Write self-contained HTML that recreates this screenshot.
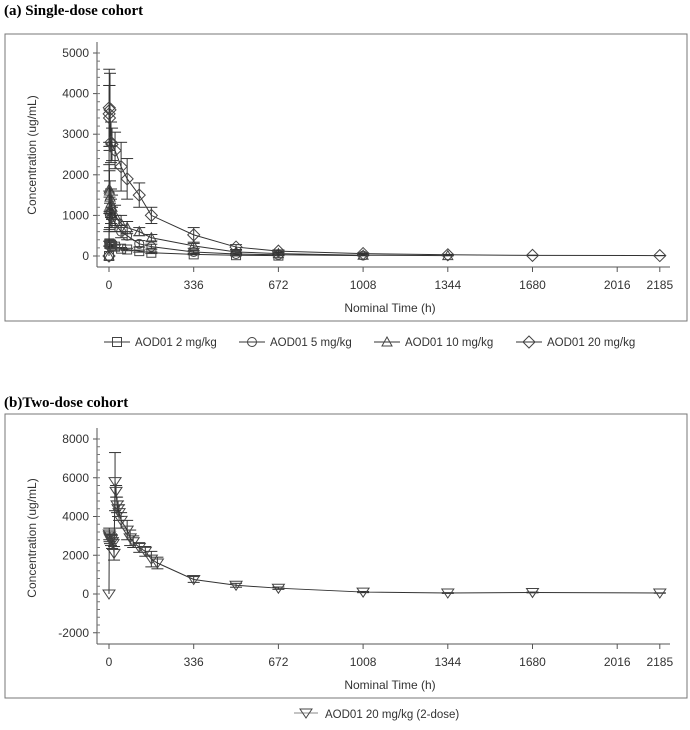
<!DOCTYPE html>
<html><head><meta charset="utf-8"><style>
body{margin:0;background:#fff;width:690px;height:725px;overflow:hidden;font-family:"Liberation Sans",Arial,sans-serif}
svg text{font-family:"Liberation Sans",Arial,sans-serif}
</style></head><body>
<svg id="svg" width="690" height="725" xmlns="http://www.w3.org/2000/svg">
<text x="4" y="15" font-weight="bold" font-size="15" fill="#000" style="font-family:'Liberation Serif',serif">(a) Single-dose cohort</text>
<text x="4" y="407" font-weight="bold" font-size="15" fill="#000" style="font-family:'Liberation Serif',serif">(b)Two-dose cohort</text>
<rect x="5" y="34" width="682" height="287" fill="none" stroke="#777"/>
<rect x="5" y="414" width="682" height="284" fill="none" stroke="#777"/>
<g id="ga"></g><g id="gb"></g>
</svg>
<script>
const xTicks=[0,336,672,1008,1344,1680,2016,2185];
const yTicksA=[0,1000,2000,3000,4000,5000];
const yTicksB=[-2000,0,2000,4000,6000,8000];
const seriesNames=["AOD01 2 mg/kg","AOD01 5 mg/kg","AOD01 10 mg/kg","AOD01 20 mg/kg"];
const t2=[0,1,2,4,8,12,24,48,72,120,168,336,504,672];
const c2=[0,300,310,290,280,250,230,180,160,120,80,40,20,10];
const e2=[0,60,60,50,50,40,40,30,30,25,20,10,5,3];
const t5=[0,1,2,4,8,12,24,48,72,120,168,336,504,672,1008];
const c5=[0,1100,1050,1000,1100,950,800,600,500,300,230,100,50,30,10];
const e5=[0,500,400,300,300,250,200,150,100,80,60,30,20,10,5];
const t10=[0,1,2,4,8,12,24,48,72,120,168,336,504,672,1008,1344];
const c10=[0,1650,1600,1450,1300,1200,1000,800,700,600,450,250,100,60,20,10];
const e10=[0,600,500,400,350,300,250,200,150,100,80,60,30,20,10,5];
const t20=[0,0.5,1,2,4,8,12,24,48,72,120,168,336,504,672,1008,1344,1680,2185];
const c20=[0,3500,3650,3400,3600,2800,2750,2600,2200,1900,1500,1000,520,220,120,60,30,15,10];
const e20=[0,700,950,800,900,500,400,450,600,500,300,200,180,60,30,15,10,5,3];
const tB=[0,1,2,4,8,12,16,20,24,28,32,36,40,48,72,84,96,120,144,168,192,336,504,672,1008,1344,1680,2185];
const cB=[0,3100,3000,2900,2800,2700,2600,2100,5800,5300,4600,4400,4200,3800,3300,2900,2700,2400,2200,1800,1600,750,450,300,100,50,80,50];
const eB=[0,300,300,300,300,350,300,350,1500,300,400,400,400,400,500,400,300,250,250,400,300,150,100,60,30,20,20,10];
const NS="http://www.w3.org/2000/svg";
function mk(p,tag,at){const e=document.createElementNS(NS,tag);for(const k in at)e.setAttribute(k,at[k]);p.appendChild(e);return e;}
const X=t=>109+t*(84.7/336);
function marker(g,type,x,y){
  const a={fill:"none",stroke:"#444","stroke-width":1};let m;
  if(type==="sq")m=mk(g,"rect",Object.assign({x:x-4.5,y:y-4.5,width:9,height:9},a));
  else if(type==="ci")m=mk(g,"circle",Object.assign({cx:x,cy:y,r:4.5},a));
  else if(type==="tr")m=mk(g,"polygon",Object.assign({points:`${x},${y-5} ${x-5},${y+4} ${x+5},${y+4}`},a));
  else if(type==="di")m=mk(g,"polygon",Object.assign({points:`${x},${y-6} ${x+6},${y} ${x},${y+6} ${x-6},${y}`},a));
  else m=mk(g,"polygon",Object.assign({points:`${x-6},${y-4} ${x+6},${y-4} ${x},${y+5}`},a));
  
  
}
function axes(g,Y,yt,top,axY,yTitle,yTitleY,pan){
  mk(g,"line",{x1:97,y1:top,x2:97,y2:axY,stroke:"#555"});
  mk(g,"line",{x1:97,y1:axY,x2:670,y2:axY,stroke:"#555"});
  const step=(yt[1]-yt[0])/5;
  for(let v=yt[0];v<=yt[yt.length-1]+1e-6;v+=step){mk(g,"line",{x1:97,y1:Y(v),x2:100,y2:Y(v),stroke:"#777"});}
  yt.forEach(v=>{mk(g,"line",{x1:93,y1:Y(v),x2:97,y2:Y(v),stroke:"#555"});
    const t=mk(g,"text",{x:89,y:Y(v)+4,"text-anchor":"end","font-size":12,fill:"#333"});t.textContent=v;
    });
  xTicks.forEach(v=>{mk(g,"line",{x1:X(v),y1:axY,x2:X(v),y2:axY+5,stroke:"#555"});
    const t=mk(g,"text",{x:X(v),y:axY+22,"text-anchor":"middle","font-size":12,fill:"#333"});t.textContent=v;
    });
  const xt=mk(g,"text",{x:390,y:axY+45,"text-anchor":"middle","font-size":12,fill:"#333"});xt.textContent="Nominal Time (h)";
  
  const ytt=mk(g,"text",{x:0,y:0,"text-anchor":"middle","font-size":12,fill:"#333",transform:`translate(36,${yTitleY}) rotate(-90)`});ytt.textContent=yTitle;
  
}
function series(g,Y,t,c,e,type,name){
  const sg=mk(g,"g",{});
  mk(sg,"polyline",{points:t.map((v,i)=>X(v)+","+Y(c[i])).join(" "),fill:"none",stroke:"#333","stroke-width":1});
  t.forEach((v,i)=>{if(e[i]>0){const x=X(v),y1=Y(c[i]-e[i]),y2=Y(c[i]+e[i]);
    mk(sg,"line",{x1:x,y1:y1,x2:x,y2:y2,stroke:"#333"});
    mk(sg,"line",{x1:x-6,y1:y1,x2:x+6,y2:y1,stroke:"#333"});
    mk(sg,"line",{x1:x-6,y1:y2,x2:x+6,y2:y2,stroke:"#333"});}});
  t.forEach((v,i)=>marker(sg,type,X(v),Y(c[i])));
}
const ga=document.getElementById("ga"),gb=document.getElementById("gb");
const YA=v=>256-v*(203/5000);
axes(ga,YA,yTicksA,42,267,"Concentration (ug/mL)",155,"panel-a");
series(ga,YA,t2,c2,e2,"sq","series-2mgkg");
series(ga,YA,t5,c5,e5,"ci","series-5mgkg");
series(ga,YA,t10,c10,e10,"tr","series-10mgkg");
series(ga,YA,t20,c20,e20,"di","series-20mgkg");
const YB=v=>594-v*(155/8000);
axes(gb,YB,yTicksB,428,644,"Concentration (ug/mL)",538,"panel-b");
series(gb,YB,tB,cB,eB,"it","series-20mgkg-2dose");
const types=["sq","ci","tr","di"],lx=[104,239,374,516];
seriesNames.forEach((n,i)=>{const lg=mk(ga,"g",{});
  mk(lg,"line",{x1:lx[i],y1:342,x2:lx[i]+26,y2:342,stroke:"#333"});marker(lg,types[i],lx[i]+13,342);
  const t=mk(lg,"text",{x:lx[i]+31,y:346,"font-size":11.5,fill:"#333"});t.textContent=n;});
const lb=mk(gb,"g",{});
mk(lb,"line",{x1:294,y1:713,x2:318,y2:713,stroke:"#888"});marker(lb,"it",306,713);
const tl=mk(lb,"text",{x:325,y:718,"font-size":11.5,fill:"#333"});tl.textContent="AOD01 20 mg/kg (2-dose)";
</script>
</body></html>
